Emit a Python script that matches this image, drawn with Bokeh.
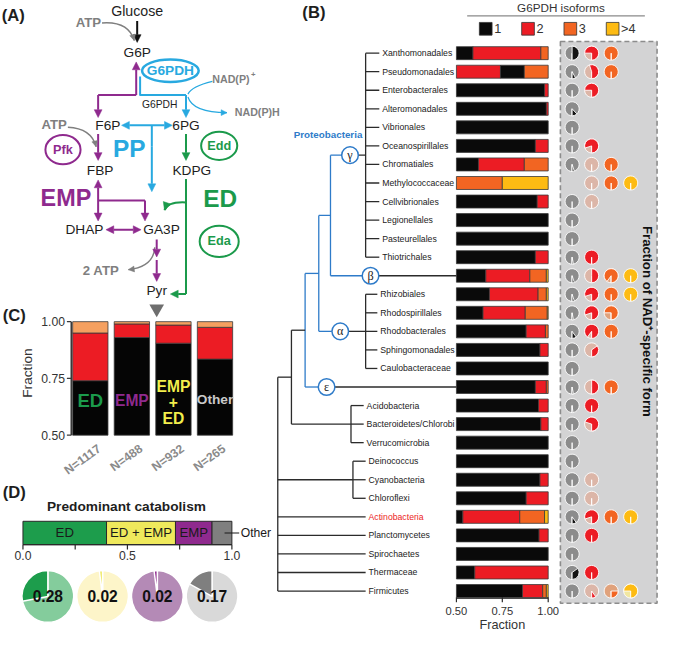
import math
from bokeh.plotting import figure
from bokeh.models import Range1d, Arrow, NormalHead
from bokeh.core.properties import value
from bokeh.embed import file_html
from bokeh.resources import INLINE

# ===================== DATA =====================
# Panel B: taxa (rows), fraction of genomes with 1, 2, 3, >4 G6PDH isoforms
taxa = ["Xanthomonadales", "Pseudomonadales", "Enterobacterales", "Alteromonadales", "Vibrionales",
        "Oceanospirillales", "Chromatiales", "Methylococcaceae", "Cellvibrionales", "Legionellales",
        "Pasteurellales", "Thiotrichales", "β", "Rhizobiales", "Rhodospirillales", "Rhodobacterales",
        "Sphingomonadales", "Caulobacteraceae", "ε", "Acidobacteria", "Bacteroidetes/Chlorobi",
        "Verrucomicrobia", "Deinococcus", "Cyanobacteria", "Chloroflexi", "Actinobacteria",
        "Planctomycetes", "Spirochaetes", "Thermaceae", "Firmicutes"]
iso1 = [0.59, 0.13, 0.98, 0.99, 1.00, 0.93, 0.62, 0.00, 0.94, 1.00,
        1.00, 0.93, 0.66, 0.68, 0.645, 0.88, 0.955, 1.00, 0.93, 0.947,
        0.96, 1.00, 1.00, 0.955, 0.88, 0.535, 0.95, 1.00, 0.60, 0.86]
iso2 = [0.37, 0.74, 0.02, 0.01, 0.00, 0.07, 0.25, 0.00, 0.06, 0.00,
        0.00, 0.07, 0.24, 0.265, 0.23, 0.105, 0.045, 0.00, 0.06, 0.053,
        0.04, 0.00, 0.00, 0.045, 0.12, 0.31, 0.05, 0.00, 0.40, 0.11]
iso3 = [0.04, 0.13, 0.00, 0.00, 0.00, 0.00, 0.13, 0.75, 0.00, 0.00,
        0.00, 0.00, 0.09, 0.045, 0.12, 0.015, 0.00, 0.00, 0.01, 0.00,
        0.00, 0.00, 0.00, 0.00, 0.00, 0.135, 0.00, 0.00, 0.00, 0.02]
iso4 = [0.00, 0.00, 0.00, 0.00, 0.00, 0.00, 0.00, 0.25, 0.00, 0.00,
        0.00, 0.00, 0.01, 0.01, 0.005, 0.00, 0.00, 0.00, 0.00, 0.00,
        0.00, 0.00, 0.00, 0.00, 0.00, 0.02, 0.00, 0.00, 0.00, 0.01]
stack_order = ["1234"] * len(taxa)
stack_order[1] = "2134"
# fraction of NAD+-specific form per isoform class (None = no pie)
nad1 = [0.50, 0.08, 0.00, 0.12, 0.00, 0.00, 0.05, None, 0.00, 0.00,
        0.00, 0.03, 0.05, 0.05, 0.03, 0.10, 0.00, 0.00, 0.03, 0.02,
        0.00, 0.00, 0.00, 0.00, 0.00, 0.10, 0.00, 0.00, 0.35, 0.00]
nad2 = [0.75, 0.55, 0.75, None, None, 0.80, 0.00, 0.00, 0.00, None,
        None, 1.00, 0.50, 0.80, 0.80, 0.90, 0.35, None, 0.50, 1.00,
        0.70, None, None, 0.00, 0.00, 0.80, 1.00, None, 1.00, 0.10]
nad3 = [1.00, 1.00, None, None, None, None, 1.00, 1.00, None, None,
        None, None, 0.90, 1.00, 0.75, 1.00, None, None, 1.00, None,
        None, None, None, None, None, 1.00, None, None, None, 0.25]
nad4 = [None, None, None, None, None, None, None, 1.00, None, None,
        None, None, 1.00, 1.00, None, None, None, None, None, None,
        None, None, None, None, None, 1.00, None, None, None, 0.75]
iso_labels = ["1", "2", "3", ">4"]
b_ticks = [0.50, 0.75, 1.00]
b_tick_labels = ["0.50", "0.75", "1.00"]

# Panel C
c_groups = ["ED", "EMP", "EMP\n+\nED", "Other"]
c_n = ["N=1117", "N=488", "N=932", "N=265"]
c_f1 = [0.74, 0.93, 0.905, 0.835]
c_f2 = [0.21, 0.06, 0.08, 0.14]
c_f3 = [0.05, 0.01, 0.015, 0.025]
c_ticks = [0.50, 0.75, 1.00]
c_tick_labels = ["0.50", "0.75", "1.00"]

# Panel D
d_cats = ["ED", "ED + EMP", "EMP", "Other"]
d_share = [0.40, 0.33, 0.175, 0.095]
d_pie = [0.28, 0.02, 0.02, 0.17]
d_ticks = [0.0, 0.25, 0.5, 0.75, 1.0]
d_tick_labels = ["0.0", "", "0.5", "", "1.0"]

# ===================== STYLE / LAYOUT =====================
WR, HR = 675, 647
FW, FH = 659, 631
S = FW / WR
SANS = "Liberation Sans, Arial, sans-serif"
SERIF = "Liberation Serif, DejaVu Serif, serif"
INK = "#1e1e1e"
PURPLE = "#8f2a8e"
CYAN = "#28a9e0"
GREEN = "#1b9a4b"
GREY = "#7f7f7f"
BLUE = "#2e7bc9"
RED = "#ec1c24"
ISO_COL = {"1": "#0a0a0a", "2": "#ec1c24", "3": "#f26522", "4": "#fdbb13"}
PIE_PALE = ["#8c8c8c", "#dcb6a8", "#e0a27c", "#f1e7a2"]
PIE_DARK = ["#141414", "#ec1c24", "#f26522", "#fdbb13"]
C_COL = ["#050505", "#ec1c24", "#f5a060"]
C_LABEL_COL = [GREEN, PURPLE, "#f2ee4c", "#c9c9c9"]
D_COL = ["#1d9d4c", "#efe95c", "#8f2a8e", "#7f7f7f"]
D_PALE = ["#84cc9c", "#fdf5c9", "#b48ab6", "#d9d9d9"]


def Y(r):
    return HR - r


def fs(v):
    return value(f"{v * S:.1f}px")


def xr(v0, p0, v1, p1):
    k = (v1 - v0) / (p1 - p0)
    return Range1d(start=v0 + (0 - p0) * k, end=v0 + (WR - p0) * k)


def yr(v0, r0, v1, r1):
    k = (v1 - v0) / (r1 - r0)
    return Range1d(start=v0 + (HR - r0) * k, end=v0 + (0 - r0) * k)


p = figure(width=FW, height=FH, x_range=Range1d(0, WR), y_range=Range1d(0, HR),
           x_axis_type=None, y_axis_type=None, toolbar_location=None,
           output_backend="svg", min_border=0, outline_line_color=None,
           background_fill_color="white", border_fill_color="white")
p.grid.visible = False

p.extra_x_ranges = {
    "bx": xr(0.5, 467, 1.0, 561),     # panel B bars
    "pc": xr(0, 585.5, 3, 645.5),     # panel B pie columns
    "lg": xr(0, 497, 3, 627),         # panel B legend
    "cx": xr(0, 92, 3, 219.7),        # panel C bars
    "dx": xr(0.0, 23, 1.0, 237),      # panel D bar
    "dp": xr(0, 48.5, 3, 216.7),      # panel D pies
}
p.extra_y_ranges = {
    "by": yr(0, 54, -29, 605.5),      # panel B rows (row i at -i)
    "cy": yr(0.5, 445.7, 1.0, 329.3), # panel C fraction
}


def T(xs, ys, texts, size, color=INK, bold=False, align="center", base="middle",
      angle=0.0, font=SANS, xname=None, yname=None, lh=1.2):
    if not isinstance(xs, list):
        xs, ys, texts = [xs], [ys], [texts]
    kw = {}
    if xname:
        kw["x_range_name"] = xname
    if yname:
        kw["y_range_name"] = yname
    p.text(x=xs, y=ys, text=texts, text_font=value(font), text_font_size=fs(size),
           text_font_style="bold" if bold else "normal", text_color=color,
           text_align=align, text_baseline=base, angle=angle, text_line_height=lh, **kw)


def line(xs, ys, color, w=2.0):
    p.line(xs, [Y(v) for v in ys], line_color=color, line_width=w, line_join="round")


def arrow(x0, y0, x1, y1, color, w=2.0, both=False, hs=8):
    def head():
        return NormalHead(size=hs * S, fill_color=color, line_color=color, line_width=0.5)
    p.add_layout(Arrow(x_start=x0, y_start=Y(y0), x_end=x1, y_end=Y(y1),
                       end=head(), start=head() if both else None,
                       line_color=color, line_width=w))


def curve(x0, y0, cx, cy, x1, y1, color, w=1.4, hs=6):
    p.quadratic(x0=[x0], y0=[Y(y0)], x1=[x1], y1=[Y(y1)], cx=[cx], cy=[Y(cy)],
                line_color=color, line_width=w)
    if hs:
        dx, dy = x1 - cx, y1 - cy
        L = math.hypot(dx, dy)
        arrow(x1 - dx / L * 2, y1 - dy / L * 2, x1, y1, color, w=w, hs=hs)


# ===================== PANEL A =====================
arrow(140, 21, 140, 43, "#111111")
curve(104, 23, 131, 21, 137, 41, GREY)
line([100, 139], [97, 97], PURPLE)
arrow(139, 97, 139, 63, PURPLE)
arrow(100, 97, 100, 120, PURPLE)
line([143, 143, 190], [78, 97, 97], CYAN)
arrow(190, 97, 190, 120, CYAN)
curve(217, 83, 196, 88, 192, 96, CYAN, w=1.2, hs=0)
curve(192, 99, 197, 115, 232, 115, CYAN, w=1.2, hs=6)
arrow(124, 128, 176, 128, CYAN, both=True)
line([155, 155], [128, 150], CYAN)
arrow(155, 150, 155, 196, CYAN)
arrow(100, 137, 100, 164, PURPLE)
curve(69, 130, 93, 131, 98, 150, GREY)
arrow(100, 184, 100, 226, PURPLE, both=True)
line([100, 148], [205, 205], PURPLE)
arrow(148, 205, 148, 226, PURPLE)
arrow(108, 235, 144, 235, PURPLE, both=True)
arrow(160, 245, 160, 263, PURPLE)
arrow(160, 266, 160, 288, PURPLE)
curve(158, 253, 157, 273, 131, 276, GREY)
arrow(190, 137, 190, 164, GREEN)
line([190, 190], [183, 301], GREEN)
arrow(190, 301, 174, 301, GREEN)
curve(190, 207, 171, 206, 168, 215, GREEN, w=2.0, hs=8)
p.scatter(x=[160], y=[Y(316)], marker="inverted_triangle", size=15 * S,
          fill_color="#6e6e6e", line_color=None)

p.ellipse(x=[174], y=[Y(72)], width=58, height=23, fill_color="white",
          line_color=CYAN, line_width=2.5)
p.ellipse(x=[64, 224, 224], y=[Y(153), Y(149), Y(247)], width=[36, 37, 40],
          height=[30, 29, 32], fill_color="white",
          line_color=[PURPLE, GREEN, GREEN], line_width=2)

T(13, Y(15), "(A)", 17, bold=True)
for s_, x_, y_ in [("Glucose", 140, 11), ("G6P", 140, 53), ("F6P", 110, 128), ("6PG", 190, 128),
                   ("FBP", 102, 174), ("KDPG", 196, 174), ("DHAP", 86, 235), ("GA3P", 165, 235),
                   ("Pyr", 160, 297)]:
    T(x_, Y(y_), s_, 14.5 if s_ == "Glucose" else 14)
T(163, Y(107), "G6PDH", 10.5)
for s_, x_, y_ in [("ATP", 90, 23), ("ATP", 55, 127), ("2 ATP", 103, 277)]:
    T(x_, Y(y_), s_, 13.5, color=GREY, bold=True)
T(236, Y(80), "NAD(P)", 11, color=GREY, bold=True)
T(259, Y(76), "+", 8, color=GREY, bold=True)
T(263, Y(114), "NAD(P)H", 11, color=GREY, bold=True)
T(174, Y(72), "G6PDH", 14, color=CYAN, bold=True)
T(64, Y(153), "Pfk", 13, color=PURPLE, bold=True)
T(224, Y(149), "Edd", 13, color=GREEN, bold=True)
T(224, Y(247), "Eda", 13, color=GREEN, bold=True)
T(132, Y(152), "PP", 25, color=CYAN, bold=True)
T(67, Y(203), "EMP", 24, color=PURPLE, bold=True)
T(225, Y(203), "ED", 25, color=GREEN, bold=True)

# ===================== PANEL C =====================
T(14, Y(323), "(C)", 17, bold=True)
c_idx = list(range(len(c_groups)))
c_b2 = [a + b for a, b in zip(c_f1, c_f2)]
c_b3 = [a + b for a, b in zip(c_b2, c_f3)]
for bottoms, tops, col in [([0.5] * 4, c_f1, C_COL[0]), (c_f1, c_b2, C_COL[1]), (c_b2, c_b3, C_COL[2])]:
    p.vbar(x=c_idx, bottom=[max(b, 0.5) for b in bottoms], top=tops, width=0.85,
           fill_color=col, line_color="#3a3a3a", line_width=0.8,
           x_range_name="cx", y_range_name="cy")
p.segment(x0=[72.5], y0=[0.5], x1=[72.5], y1=[1.0], line_color="#3a3a3a", line_width=1.6,
          y_range_name="cy")
p.segment(x0=[68] * 3, y0=c_ticks, x1=[72.5] * 3, y1=c_ticks, line_color="#3a3a3a",
          line_width=1.2, y_range_name="cy")
T([66] * 3, c_ticks, c_tick_labels, 12.5, color="#333333", align="right", yname="cy")
T(28, Y(382), "Fraction", 14, color="#333333", angle=math.pi / 2)
c_label_size = [19, 16, 16, 14]
c_label_y = [410, 410, 412, 409]
for i, g in enumerate(c_groups):
    T(i, Y(c_label_y[i]), g, c_label_size[i], color=C_LABEL_COL[i], bold=True,
      xname="cx", lh=0.95)
T([i + 0.22 for i in c_idx], [Y(458)] * 4, c_n, 12.5, color="#8a8a8a", bold=True,
  align="right", angle=math.radians(36), xname="cx")

# ===================== PANEL D =====================
T(14, Y(504), "(D)", 17, bold=True)
T(129, Y(519), "Predominant catabolism", 14, bold=True)
d_right = []
acc = 0.0
for s_ in d_share:
    acc += s_
    d_right.append(acc)
d_left = [0.0] + d_right[:-1]
p.hbar(y=[Y(546)] * 4, left=d_left, right=d_right, height=24, fill_color=D_COL,
       line_color="#2a2a2a", line_width=1, x_range_name="dx")
for i in range(3):
    T((d_left[i] + d_right[i]) / 2, Y(546), d_cats[i], 13.5, color="#1a1a1a", xname="dx")
p.segment(x0=[d_right[3] - 0.035], y0=[Y(546)], x1=[d_right[3] + 0.035], y1=[Y(546)],
          line_color="#1a1a1a", line_width=1.2, x_range_name="dx")
T(d_right[3] + 0.042, Y(546), d_cats[3], 12.5, color="#1a1a1a", align="left", xname="dx")
p.segment(x0=[0.0], y0=[Y(558)], x1=[1.0], y1=[Y(558)], line_color="#2a2a2a",
          line_width=1.2, x_range_name="dx")
p.segment(x0=d_ticks, y0=[Y(558)] * 5, x1=d_ticks, y1=[Y(563)] * 5, line_color="#2a2a2a",
          line_width=1.2, x_range_name="dx")
T(d_ticks, [Y(569)] * 5, d_tick_labels, 12.5, color="#333333", xname="dx")
d_idx = list(range(len(d_pie)))
TWO_PI = 2 * math.pi * 0.99995
p.wedge(x=d_idx, y=[Y(611)] * 4, radius=26.5 * S, radius_units="screen",
        start_angle=[math.pi / 2] * 4, end_angle=[math.pi / 2 + TWO_PI] * 4,
        fill_color=D_PALE, line_color="white", line_width=1.5, x_range_name="dp")
p.wedge(x=d_idx, y=[Y(611)] * 4, radius=26.5 * S, radius_units="screen",
        start_angle=[math.pi / 2] * 4, end_angle=[math.pi / 2 + 2 * math.pi * f for f in d_pie],
        fill_color=D_COL, line_color="white", line_width=1.5, x_range_name="dp")
T(d_idx, [Y(611)] * 4, [f"{f:.2f}" for f in d_pie], 16, color="#111111", bold=True, xname="dp")

# ===================== PANEL B =====================
T(321, Y(12.5), "(B)", 17, bold=True)
T(574, Y(7), "G6PDH isoforms", 12, color="#333333")
p.segment(x0=[478], y0=[Y(15.7)], x1=[660], y1=[Y(15.7)], line_color="#8a8a8a", line_width=1.2)
lg_idx = list(range(4))
p.scatter(x=lg_idx, y=[Y(29)] * 4, marker="square", size=13 * S,
          fill_color=[ISO_COL[k] for k in "1234"], line_color="#333333", line_width=0.8,
          x_range_name="lg")
T([i + 0.2 for i in lg_idx], [Y(29)] * 4, iso_labels, 13, color="#333333", align="left",
  xname="lg")

# grey dashed box for pies
p.quad(left=[573.5], right=[672.5], top=[Y(42)], bottom=[Y(618)], fill_color="#d3d3d4",
       line_color="#8c8c8c", line_dash="5 3", line_width=1.6)
T(663, Y(329), "Fraction of NAD⁺-specific form", 13.5, color="#111111", bold=True,
  angle=-math.pi / 2)

# stacked bars
seg_y, seg_l, seg_r, seg_c = [], [], [], []
frs = {"1": iso1, "2": iso2, "3": iso3, "4": iso4}
for i in range(len(taxa)):
    cum = 0.0
    for k in stack_order[i]:
        f = frs[k][i]
        lo, hi = cum, cum + f
        cum = hi
        if f <= 0 or hi <= 0.5:
            continue
        seg_y.append(-i)
        seg_l.append(max(lo, 0.5))
        seg_r.append(min(hi, 1.0))
        seg_c.append(ISO_COL[k])
p.hbar(y=seg_y, left=seg_l, right=seg_r, height=0.70, fill_color=seg_c,
       line_color="#3a3a3a", line_width=0.8, x_range_name="bx", y_range_name="by")
# axis of the bars
p.segment(x0=[0.5], y0=[Y(613)], x1=[1.0], y1=[Y(613)], line_color="#2a2a2a",
          line_width=1.0, x_range_name="bx")
p.segment(x0=b_ticks, y0=[Y(612)] * 3, x1=b_ticks, y1=[Y(617)] * 3, line_color="#2a2a2a",
          line_width=1.2, x_range_name="bx")
T(b_ticks, [Y(626)] * 3, b_tick_labels, 11.5, color="#333333", xname="bx")
T(0.75, Y(640), "Fraction", 13, color="#333333", xname="bx")

# pies
for col, arr in enumerate([nad1, nad2, nad3, nad4]):
    rows = [i for i, f in enumerate(arr) if f is not None]
    pale_rows = [i for i in rows if arr[i] < 1]
    dark_rows = [i for i in rows if arr[i] > 0]
    if pale_rows:
        p.wedge(x=[col] * len(pale_rows), y=[-i for i in pale_rows], radius=7.2 * S,
                radius_units="screen", start_angle=-math.pi / 2,
                end_angle=-math.pi / 2 + TWO_PI, fill_color=PIE_PALE[col],
                line_color="white", line_width=0.9, x_range_name="pc", y_range_name="by")
    if dark_rows:
        p.wedge(x=[col] * len(dark_rows), y=[-i for i in dark_rows], radius=7.2 * S,
                radius_units="screen", start_angle=-math.pi / 2,
                end_angle=[-math.pi / 2 + min(arr[i], 0.99995) * 2 * math.pi for i in dark_rows],
                fill_color=PIE_DARK[col], line_color="white", line_width=0.9,
                x_range_name="pc", y_range_name="by")

# tree (cladogram)
BAR0 = 467
CR = 8.5
tree_nodes = {
    "gamma": (374, list(range(0, 12))),
    "gb": (338, ["gamma", 12]),
    "alpha": (374, list(range(13, 18))),
    "gba": (326, ["gb", "alpha"]),
    "proteo": (312, ["gba", 18]),
    "fcb": (359, [19, 20, 21]),
    "pf": (298, ["proteo", "fcb"]),
    "dcc": (361, [22, 23, 24]),
    "root": (284, ["pf", "dcc", 25, 26, 27, 28, 29]),
}
leaf_end = {"gamma": 388, "alpha": 386, "fcb": 372, "dcc": 374, "root": 374}
class_marks = {"gamma": (358, "γ"), 12: (379, "β"), "alpha": (348, "α"), 18: (334, "ε")}
blue_nodes = {"proteo", "gba", "gb"}


def node_y(c):
    if isinstance(c, int):
        return -c
    ys = [node_y(k) for k in tree_nodes[c][1]]
    return (min(ys) + max(ys)) / 2


sx0, sy0, sx1, sy1, scol = [], [], [], [], []


def add(a, b, c, d, col):
    sx0.append(a); sy0.append(b); sx1.append(c); sy1.append(d); scol.append(col)


leaf_lab_x = {}
for name, (nx, ch) in tree_nodes.items():
    col = BLUE if name in blue_nodes else "#2b2b2b"
    ys = [node_y(k) for k in ch]
    add(nx, min(ys), nx, max(ys), col)
    for k in ch:
        ky = node_y(k)
        if isinstance(k, int):
            kx = leaf_end.get(name, BAR0)
            leaf_lab_x[k] = kx + 3
        else:
            kx = tree_nodes[k][0]
        if k in class_marks:
            mx = class_marks[k][0]
            add(nx, ky, mx - CR, ky, col)
            add(mx + CR, ky, kx, ky, "#2b2b2b")
        else:
            add(nx, ky, kx, ky, col)
p.segment(x0=sx0, y0=sy0, x1=sx1, y1=sy1, line_color=scol, line_width=1.3,
          y_range_name="by")
mk = list(class_marks.keys())
p.circle(x=[class_marks[k][0] for k in mk], y=[node_y(k) for k in mk], radius=CR * S,
         radius_units="screen", fill_color="white", line_color=BLUE, line_width=1.5,
         y_range_name="by")
T([class_marks[k][0] for k in mk], [node_y(k) for k in mk], [class_marks[k][1] for k in mk],
  12.5, color="#222222", font=SERIF, yname="by")
T(335.5, Y(137.5), "Proteobacteria", 10, color=BLUE, bold=True)
lab_rows = [i for i in range(len(taxa)) if i not in class_marks]
T([leaf_lab_x[i] for i in lab_rows], [-i for i in lab_rows], [taxa[i] for i in lab_rows],
  8.9, color=[RED if taxa[i] == "Actinobacteria" else "#222222" for i in lab_rows],
  align="left", yname="by")

open("out.html", "w").write(file_html(p, INLINE, title="G6PDH isoforms"))
